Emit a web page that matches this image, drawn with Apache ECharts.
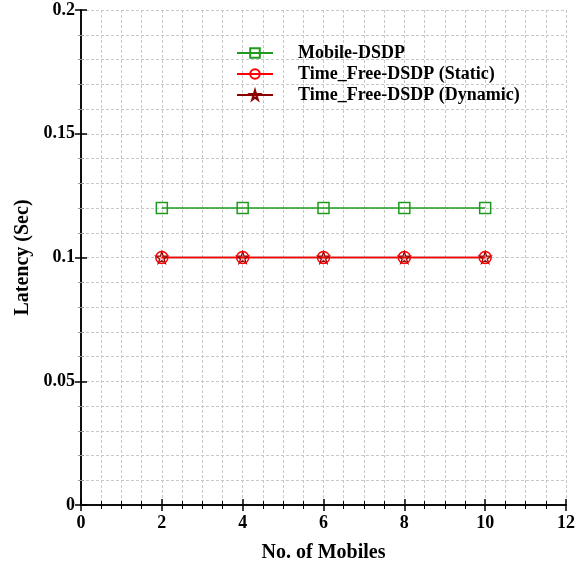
<!DOCTYPE html>
<html><head><meta charset="utf-8">
<script src="https://cdn.jsdelivr.net/npm/echarts@6/dist/echarts.min.js"></script>
<style>html,body{margin:0;padding:0;background:#fff}#c{width:581px;height:565px}</style>
</head><body><div id="c"></div>
<script>
const mobiles = [2, 4, 6, 8, 10];
const mobileDSDP = [0.12, 0.12, 0.12, 0.12, 0.12];
const tfStatic = [0.1, 0.1, 0.1, 0.1, 0.1];
const tfDynamic = [0.1, 0.1, 0.1, 0.1, 0.1];
const seriesNames = ['Mobile-DSDP', 'Time_Free-DSDP (Static)', 'Time_Free-DSDP (Dynamic)'];

const font = 'Liberation Serif';
const chart = echarts.init(document.getElementById('c'));
const pair = arr => mobiles.map((m, i) => [m, arr[i]]);
const axisLine = {show: true, lineStyle: {color: '#000', width: 1.5}};
const grid = {left: 81, right: 15, top: 10, bottom: 60, outerBoundsMode: 'none', containLabel: false};
const dashed = {show: true, lineStyle: {color: '#c8c8c8', type: [3, 2], width: 1}};
const tick = {inside: true, length: 6, lineStyle: {color: '#000', width: 1.5}};
const labelStyle = {fontFamily: font, fontWeight: 'bold', fontSize: 18, color: '#000'};
const nameStyle = {fontFamily: font, fontWeight: 'bold', fontSize: 20, color: '#000'};
chart.setOption({
  animation: false,
  grid: grid,
  legend: {
    left: 231, top: 39, orient: 'vertical', itemGap: 3, itemWidth: 36, itemHeight: 12,
    textStyle: {fontFamily: font, fontWeight: 'bold', fontSize: 18, color: '#000', padding: [0, 0, 0, 20]},
    data: seriesNames
  },
  xAxis: [{
    type: 'value', min: 0, max: 12, interval: 2,
    name: 'No. of Mobiles', nameLocation: 'middle', nameGap: 38,
    nameTextStyle: nameStyle,
    axisLine: axisLine, axisTick: tick,
    minorTick: {show: true, splitNumber: 4, length: 4, lineStyle: {color: '#000', width: 1}},
    axisLabel: Object.assign({margin: 9}, labelStyle),
    splitLine: dashed, minorSplitLine: dashed
  }, {
    type: 'value', min: 0, max: 12, interval: 2, position: 'top',
    axisLine: axisLine, axisTick: tick,
    minorTick: {show: true, splitNumber: 4, length: 4, lineStyle: {color: '#000', width: 1}},
    axisLabel: {show: false}, splitLine: {show: false}
  }],
  yAxis: [{
    type: 'value', min: 0, max: 0.2, interval: 0.05,
    name: 'Latency (Sec)', nameLocation: 'middle', nameGap: 48, nameRotate: 90,
    nameTextStyle: nameStyle,
    axisLine: axisLine, axisTick: tick,
    minorTick: {show: true, splitNumber: 5, length: 3, lineStyle: {color: '#999', width: 1}},
    axisLabel: Object.assign({margin: 6}, labelStyle),
    splitLine: dashed, minorSplitLine: dashed
  }, {
    type: 'value', min: 0, max: 0.2, interval: 0.05, position: 'right',
    axisLine: axisLine, axisTick: tick,
    minorTick: {show: true, splitNumber: 5, length: 3, lineStyle: {color: '#999', width: 1}},
    axisLabel: {show: false}, splitLine: {show: false}
  }],
  series: [
    {name: seriesNames[0], type: 'line', data: pair(mobileDSDP), symbol: 'rect', symbolSize: 11,
     color: '#1f9a1f', lineStyle: {width: 1.5, color: '#1f9a1f'},
     itemStyle: {color: 'rgba(255,255,255,0)', borderColor: '#1f9a1f', borderWidth: 1.5}},
    {name: seriesNames[2], type: 'line', data: pair(tfDynamic),
     symbol: 'path://M50,0 L61,35 L98,35 L68,57 L79,91 L50,70 L21,91 L32,57 L2,35 L39,35 Z', symbolSize: 12,
     color: '#8b0000', lineStyle: {width: 1.5, color: '#8b0000'},
     itemStyle: {color: 'rgba(255,0,0,0.25)', borderColor: '#8b0000', borderWidth: 1.2}},
    {name: seriesNames[1], type: 'line', data: pair(tfStatic), symbol: 'circle', symbolSize: 12,
     color: '#ff0000', lineStyle: {width: 1.5, color: '#ff0000'},
     itemStyle: {color: 'rgba(255,255,255,0)', borderColor: '#ff0000', borderWidth: 1.5}}
  ]
});
</script></body></html>
